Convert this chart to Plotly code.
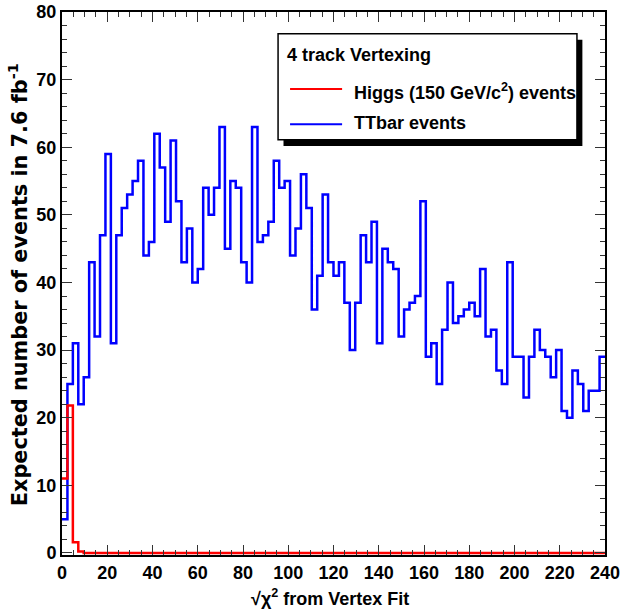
import numpy as np
import plotly.graph_objects as go

# 100 bins from 0 to 240
x_min, x_max, n_bins = 0, 240, 100

ttbar = [5, 25, 31, 22, 26, 43, 32, 47, 59, 31, 47, 51, 53, 55, 58, 44, 46, 62, 57, 49,
         61, 52, 43, 48, 40,
         42, 54, 50, 54, 63, 45, 55, 54, 43, 40, 63, 46, 47, 49, 58, 54, 55, 44, 48, 56,
         51, 36, 41, 53,
         43, 41, 43, 37, 30, 37, 47, 43, 49, 31, 45, 43, 42, 32, 36, 37, 38, 52, 29, 31,
         25, 33, 40, 34, 35,
         36, 37, 35, 42, 32, 33, 27, 25, 43, 29, 29, 23, 29, 33, 30, 29, 26, 30, 21, 20,
         27, 25, 21, 24, 24, 29]
higgs = [11, 21.8, 1.6, 0.2] + [0] * 96

edges = np.linspace(x_min, x_max, n_bins + 1)

sans = "Liberation Sans, Arial, sans-serif"
wide = "DejaVu Sans, Verdana, sans-serif"


def steps(vals):
    # repeat last value so the final bin gets its flat top
    return list(edges), list(vals) + [vals[-1]]


fig = go.Figure()
hx, hy = steps(higgs)
tx, ty = steps(ttbar)
fig.add_trace(go.Scatter(x=tx, y=ty, mode="lines", line=dict(color="#0000ff", width=2.5, shape="hv"),
                         name="TTbar events", showlegend=False))
fig.add_trace(go.Scatter(x=hx, y=hy, mode="lines", line=dict(color="#ff0000", width=2.5, shape="hv"),
                         name="Higgs (150 GeV/c<sup>2</sup>) events", showlegend=False))

# legend box with drop shadow (ROOT style), drawn by hand
bx0, bx1, by0, by1 = 95.5, 227.6, 61.1, 76.8
fig.add_shape(type="rect", x0=bx0 + 2.4, x1=bx1 + 2.4, y0=by0 - 0.9, y1=by1 - 0.9,
              fillcolor="black", line=dict(width=0), layer="above")
fig.add_shape(type="rect", x0=bx0, x1=bx1, y0=by0, y1=by1,
              fillcolor="white", line=dict(color="black", width=1.5), layer="above")
fig.add_annotation(x=98.6, y=73.6, text="4 track Vertexing", showarrow=False, xanchor="left",
                   font=dict(family=sans, size=18, color="black", weight="bold"))
leg = [("Higgs (150 GeV/c<sup>2</sup>) events", "#ff0000", 68.6, 68.2),
       ("TTbar events", "#0000ff", 63.4, 63.6)]
for label, col, ly, ty_ in leg:
    fig.add_shape(type="line", x0=100.8, x1=123.8, y0=ly, y1=ly, line=dict(color=col, width=2), layer="above")
    fig.add_annotation(x=128.2, y=ty_, text=label, showarrow=False, xanchor="left",
                       font=dict(family=sans, size=18, color="black", weight="bold"))

# axis titles
fig.add_annotation(xref="paper", yref="paper", x=-0.081, y=0.497, textangle=-90, showarrow=False,
                   xanchor="center", yanchor="middle",
                   text="Expected number of events in 7.6 fb<sup>-1</sup>",
                   font=dict(family=wide, size=20.8, color="black", weight="bold"))
fig.add_annotation(xref="paper", yref="paper", x=0.4936, y=-0.079, showarrow=False,
                   xanchor="center", yanchor="middle",
                   text="√χ<sup>2</sup> from Vertex Fit",
                   font=dict(family=sans, size=18, color="black", weight="bold"))

axis_common = dict(showline=True, linecolor="black", linewidth=2, mirror="ticks",
                   ticks="inside", ticklen=10, tickwidth=1, tickcolor="#333",
                   showgrid=False, zeroline=False, automargin=False,
                   tickfont=dict(family=sans, size=18, color="black", weight="bold"))

fig.update_xaxes(range=[x_min, x_max], tickmode="array", tickvals=list(range(0, 241, 20)),
                 minor=dict(dtick=5, ticks="inside", ticklen=5, tickcolor="#333"),
                 **axis_common)
fig.update_yaxes(range=[-0.3, 80], dtick=10,
                 minor=dict(dtick=2, ticks="inside", ticklen=5, tickcolor="#333"),
                 **axis_common)

fig.update_layout(width=621, height=615, margin=dict(l=62, r=16, t=12, b=60),
                  paper_bgcolor="white", plot_bgcolor="white")

# drop the browser's default 8px body margin so the figure sits at the page corner
fig.write_html("out.html", config={"displayModeBar": False},
               post_script="document.body.style.margin='0';")
